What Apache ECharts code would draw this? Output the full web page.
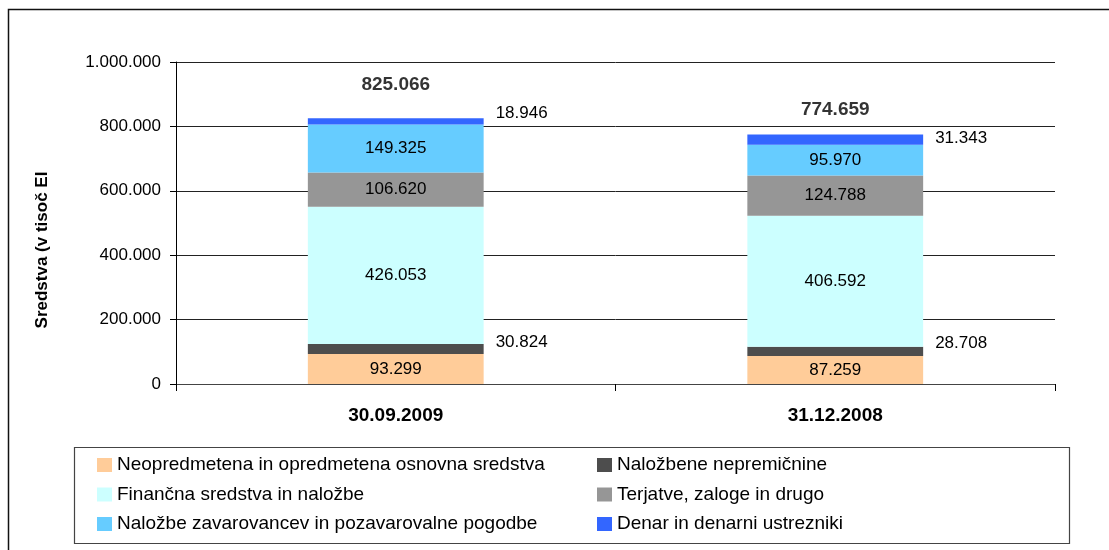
<!DOCTYPE html>
<html>
<head>
<meta charset="utf-8">
<script src="https://cdn.jsdelivr.net/npm/echarts@6/dist/echarts.min.js"></script>
<style>
  html, body { margin: 0; padding: 0; background: #fff; }
  #chart { width: 1109px; height: 550px; }
</style>
</head>
<body>
<div id="chart"></div>
<script>
// podatki (v tisoč EUR)
var categories = ['30.09.2009', '31.12.2008'];
var neopredmetena = [93299, 87259];
var nalozbeneNepremicnine = [30824, 28708];
var financnaSredstva = [426053, 406592];
var terjatve = [106620, 124788];
var nalozbeZavarovancev = [149325, 95970];
var denar = [18946, 31343];
var skupaj = [825066, 774659];

var names = [
    'Neopredmetena in opredmetena osnovna sredstva',
    'Naložbene nepremičnine',
    'Finančna sredstva in naložbe',
    'Terjatve, zaloge in drugo',
    'Naložbe zavarovancev in pozavarovalne pogodbe',
    'Denar in denarni ustrezniki'
];
var colors = ['#FFCC99', '#4D4D4D', '#CCFFFF', '#969696', '#66CCFF', '#3366FF'];

var FONT = "'Liberation Sans', Arial, sans-serif";

// 1234567 -> 1.234.567
function fmt(v) {
    return String(Math.round(v)).replace(/\B(?=(\d{3})+(?!\d))/g, '.');
}

var insideLabel = {
    show: true,
    position: 'inside',
    color: '#000',
    fontFamily: FONT,
    fontSize: 17,
    formatter: function (p) { return fmt(p.value); }
};

function sideData(values, offsets) {
    return values.map(function (v, i) {
        return { value: v, label: { offset: offsets[i] } };
    });
}
var sideLabel = {
    show: true,
    position: 'right',
    distance: 12,
    color: '#000',
    fontFamily: FONT,
    fontSize: 17,
    formatter: function (p) { return fmt(p.value); }
};

function barSeries(idx, data, label) {
    return {
        name: names[idx],
        type: 'bar',
        stack: 'sredstva',
        barWidth: '40%',
        itemStyle: { color: colors[idx] },
        label: label,
        emphasis: { disabled: true },
        data: data
    };
}

var myChart = echarts.init(document.getElementById('chart'));

var legendText = { color: '#000', fontFamily: FONT, fontSize: 19, lineHeight: 22 };

var option = {
    animation: false,
    grid: { left: 176, right: 54, top: 62, bottom: 166 },
    graphic: [
        {
            type: 'rect',
            shape: { x: 8.5, y: 9.5, width: 1200, height: 600 },
            style: { fill: 'none', stroke: '#111', lineWidth: 1.5 },
            silent: true
        },
        {
            type: 'rect',
            shape: { x: 74.5, y: 447.5, width: 995, height: 96 },
            style: { fill: '#fff', stroke: '#444', lineWidth: 1.2 },
            silent: true,
            z: -1
        }
    ],
    legend: [
        {
            orient: 'vertical',
            left: 97, top: 454,
            padding: 0,
            itemWidth: 15, itemHeight: 14,
            itemGap: 7.5,
            icon: 'rect',
            textStyle: legendText,
            data: [names[0], names[2], names[4]]
        },
        {
            orient: 'vertical',
            left: 597, top: 454,
            padding: 0,
            itemWidth: 15, itemHeight: 14,
            itemGap: 7.5,
            icon: 'rect',
            textStyle: legendText,
            data: [names[1], names[3], names[5]]
        }
    ],
    xAxis: {
        type: 'category',
        data: categories,
        axisLine: { lineStyle: { color: '#444', width: 1 } },
        axisTick: { show: true, length: 7, lineStyle: { color: '#000' } },
        axisLabel: {
            color: '#000',
            fontFamily: FONT,
            fontSize: 19,
            fontWeight: 'bold',
            margin: 22
        }
    },
    yAxis: {
        type: 'value',
        min: 0,
        max: 1000000,
        interval: 200000,
        name: 'Sredstva (v tisoč EI',
        nameLocation: 'middle',
        nameRotate: 90,
        nameGap: 125,
        nameTextStyle: {
            color: '#000',
            fontFamily: FONT,
            fontSize: 17,
            fontWeight: 'bold',
            padding: [0, 54, 0, 0]
        },
        axisLine: { show: true, lineStyle: { color: '#000', width: 1 } },
        axisTick: { show: true, length: 6, lineStyle: { color: '#000' } },
        axisLabel: {
            color: '#000',
            fontFamily: FONT,
            fontSize: 17,
            margin: 15,
            formatter: fmt
        },
        splitLine: { lineStyle: { color: '#222', width: 1 } }
    },
    series: [
        barSeries(0, neopredmetena, insideLabel),
        barSeries(1, sideData(nalozbeneNepremicnine, [[0, -7], [0, -8]]), sideLabel),
        barSeries(2, financnaSredstva, insideLabel),
        barSeries(3, terjatve, insideLabel),
        barSeries(4, nalozbeZavarovancev, insideLabel),
        barSeries(5, sideData(denar, [[0, -8], [0, -1]]), sideLabel),
        {
            name: 'Skupaj',
            type: 'scatter',
            symbolSize: 0,
            silent: true,
            label: {
                show: true,
                position: 'inside',
                color: '#000',
                fontFamily: FONT,
                fontSize: 19,
                fontWeight: 'bold',
                formatter: function (p) { return fmt(p.value); }
            },
            data: skupaj.map(function (v, i) {
                return { value: v, label: { offset: [[0, -34], [0, -25]][i] } };
            })
        }
    ]
};

myChart.setOption(option);
window.addEventListener('resize', function () { myChart.resize(); });
</script>
</body>
</html>
